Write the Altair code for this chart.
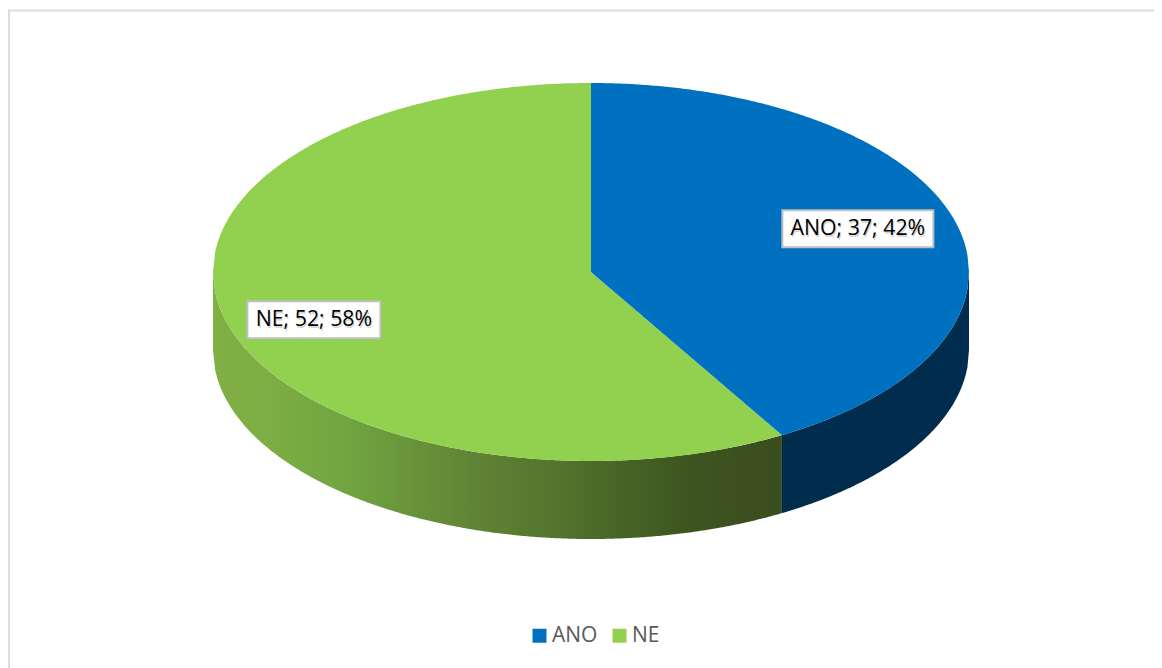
import altair as alt
import numpy as np
import pandas as pd

categories = ["ANO", "NE"]
values = [37, 52]
percents = ["42%", "58%"]
colors = ["#0070c0", "#92d050"]
label_x = [0.706, -0.733]
label_y = [0.229, -0.252]

FONT = "Open Sans"
WIDTH, HEIGHT = 1146, 660
DEPTH = 78 / 189
X_DOMAIN = [(8 - 591) / 378, (1154 - 591) / 378]
Y_DOMAIN = [(272 - 668) / 189, (272 - 8) / 189]

share = values[0] / sum(values)
edge = 2 * np.pi * share
ex, ey = float(np.sin(edge)), float(np.cos(edge))

# ANO slice: between the upper rim and (line to the edge point / lower rim)
xs = np.concatenate([np.linspace(0, ex, 80), np.linspace(ex, 1, 120)[1:]])
upper = np.sqrt(np.clip(1 - xs**2, 0, 1))
lower = np.where(xs <= ex, xs * ey / ex, -upper)
ano = pd.DataFrame({"x": xs, "y": upper, "y2": lower, "slice": categories[0], "part": "a"})

# NE slice: left half between both rims, then between the edge line and the lower rim
xl = np.linspace(-1, 0, 160)
ul = np.sqrt(np.clip(1 - xl**2, 0, 1))
xr = np.linspace(0, ex, 80)
ne_l = pd.DataFrame({"x": xl, "y": ul, "y2": -ul, "slice": categories[1], "part": "b"})
ne_r = pd.DataFrame({
    "x": xr, "y": xr * ey / ex, "y2": -np.sqrt(np.clip(1 - xr**2, 0, 1)),
    "slice": categories[1], "part": "c",
})
top = pd.concat([ne_l, ne_r, ano], ignore_index=True)


def wall(x):
    r = -np.sqrt(np.clip(1 - x**2, 0, 1))
    return pd.DataFrame({"x": x, "y": r, "y2": r - DEPTH})


wall_ne = wall(np.linspace(-1, ex, 260))
wall_ano = wall(np.linspace(ex, 1, 120))

labels = pd.DataFrame({
    "x": label_x,
    "y": label_y,
    "text": [f"{c}; {v}; {p}" for c, v, p in zip(categories, values, percents)],
})

xs_scale = alt.Scale(domain=X_DOMAIN, nice=False, zero=False)
ys_scale = alt.Scale(domain=Y_DOMAIN, nice=False, zero=False)
X = alt.X("x:Q", scale=xs_scale, axis=None)
Y = alt.Y("y:Q", scale=ys_scale, axis=None)
Y2 = alt.Y2("y2")

green_wall = alt.Gradient(
    gradient="linear", x1=0, x2=1, y1=0, y2=0,
    stops=[
        alt.GradientStop(offset=0, color="#80b044"),
        alt.GradientStop(offset=0.1, color="#7dad44"),
        alt.GradientStop(offset=0.235, color="#70a540"),
        alt.GradientStop(offset=0.35, color="#68933a"),
        alt.GradientStop(offset=0.47, color="#5f8234"),
        alt.GradientStop(offset=0.59, color="#54762e"),
        alt.GradientStop(offset=0.72, color="#476425"),
        alt.GradientStop(offset=0.84, color="#3e5420"),
        alt.GradientStop(offset=1, color="#3a4d1e"),
    ],
)

side_ne = alt.Chart(wall_ne).mark_area(color=green_wall, orient="vertical").encode(x=X, y=Y, y2=Y2)
side_ano = alt.Chart(wall_ano).mark_area(color="#002c4d", orient="vertical").encode(x=X, y=Y, y2=Y2)

faces = alt.Chart(top).mark_area(orient="vertical").encode(
    x=X, y=Y, y2=Y2,
    detail="part:N",
    color=alt.Color(
        "slice:N",
        scale=alt.Scale(domain=categories, range=colors),
        legend=alt.Legend(
            title=None, orient="none", legendX=521, legendY=617, direction="horizontal",
            symbolType="square", symbolSize=196, symbolStrokeWidth=0, symbolOpacity=1,
            labelFont=FONT, labelFontSize=21, labelColor="#595959", labelOffset=2,
            columnPadding=11, padding=0, labelLimit=100,
        ),
    ),
)

frame_top = alt.Chart(pd.DataFrame({"a": [0]})).mark_rule(color="#dcdcdc", strokeWidth=2).encode(
    x=alt.value(0), x2=alt.value(WIDTH), y=alt.value(2.5)
)
frame_left = alt.Chart(pd.DataFrame({"a": [0]})).mark_rule(color="#dcdcdc", strokeWidth=2).encode(
    x=alt.value(1), y=alt.value(2.5), y2=alt.value(HEIGHT)
)

box_ano = alt.Chart(labels.iloc[[0]]).mark_rect(
    width=151, height=37, fill="white", stroke="#bfbfbf", strokeWidth=2
).encode(x=X, y=Y)
box_ne = alt.Chart(labels.iloc[[1]]).mark_rect(
    width=133, height=37, fill="white", stroke="#bfbfbf", strokeWidth=2
).encode(x=X, y=Y)
shadow = alt.Chart(labels).mark_text(
    font=FONT, fontSize=21.3, color="#000000", opacity=0.16, dx=1, dy=2, align="center", baseline="middle"
).encode(x=X, y=Y, text="text:N")
text = alt.Chart(labels).mark_text(
    font=FONT, fontSize=21.3, color="#000000", dy=0.5, align="center", baseline="middle"
).encode(x=X, y=Y, text="text:N")

chart = alt.layer(
    frame_top, frame_left, side_ne, side_ano, faces, box_ano, box_ne, shadow, text
).properties(
    width=WIDTH, height=HEIGHT, padding=0, background="white",
    autosize=alt.AutoSizeParams(type="none"),
).configure_view(stroke=None)

chart.save("out.html", embed_options={"renderer": "svg", "actions": False})
